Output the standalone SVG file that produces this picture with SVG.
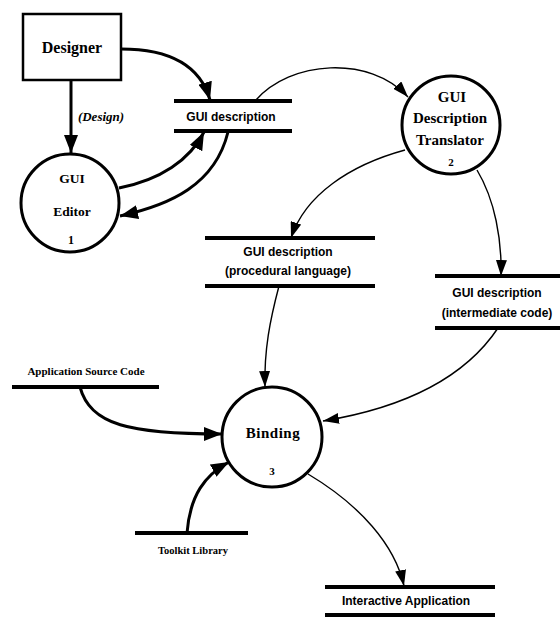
<svg xmlns="http://www.w3.org/2000/svg" width="560" height="617" viewBox="0 0 560 617">
<defs>
<style>
.bg{fill:#fff}
.box{fill:#fff;stroke:#000;stroke-width:2.5}
.proc{fill:#fff;stroke:#000;stroke-width:3}
.store{stroke:#000;stroke-width:4;fill:none}
.thick{fill:none;stroke:#000;stroke-width:3;marker-end:url(#ahB)}
.thin{fill:none;stroke:#000;stroke-width:1.4;marker-end:url(#ahS)}
.serif{font-family:"Liberation Serif","Times New Roman",serif;font-weight:bold;fill:#000;text-anchor:middle}
.sans{font-family:"Liberation Sans",Arial,sans-serif;font-weight:bold;fill:#000;text-anchor:middle;font-size:12px}
</style>
<marker id="ahB" markerUnits="userSpaceOnUse" markerWidth="18" markerHeight="14" refX="18" refY="7" orient="auto">
<path d="M0,0 L18,7 L0,14 z" fill="#000"/>
</marker>
<marker id="ahS" markerUnits="userSpaceOnUse" markerWidth="16" markerHeight="11" refX="16" refY="5.5" orient="auto">
<path d="M0,0 L16,5.5 L0,11 z" fill="#000"/>
</marker>
</defs>
<rect class="bg" x="0" y="0" width="560" height="617"/>

<g id="connectors">
<path class="thick" d="M121,49 C170,49 200,65 210,100"/>
<path class="thick" d="M71,80 L71,153"/>
<path class="thick" d="M119,188 C160,180 190,160 204,132"/>
<path class="thick" d="M228,132 C215,185 170,205 120,216"/>
<path class="thin" d="M255,101 C290,60 370,55 408,97"/>
<path class="thin" d="M405,150 C350,165 305,195 291,238"/>
<path class="thin" d="M477,170 C495,200 502,240 501,276"/>
<path class="thin" d="M279,286 C270,320 264,350 265,387"/>
<path class="thin" d="M498,328 C460,385 390,410 323,421"/>
<path class="thick" d="M80,387 C90,425 130,434 222,434"/>
<path class="thick" d="M187,533 C190,495 205,475 229,462"/>
<path class="thin" d="M308,474 C360,505 395,545 404,586"/>
<text class="serif" x="101" y="121" font-size="13" font-style="italic">(Design)</text>
</g>

<g id="designer">
<rect class="box" x="23" y="14" width="98" height="66"/>
<text class="serif" x="72" y="53" font-size="16">Designer</text>
</g>

<g id="store-gui-description">
<line class="store" x1="174" y1="101" x2="292" y2="101"/>
<line class="store" x1="174" y1="131" x2="292" y2="131"/>
<text class="sans" x="231" y="121">GUI description</text>
</g>

<g id="gui-editor">
<circle class="proc" cx="70" cy="203" r="49"/>
<text class="serif" x="72" y="183" font-size="13.5">GUI</text>
<text class="serif" x="72" y="216" font-size="13.5">Editor</text>
<text class="serif" x="71" y="244" font-size="12">1</text>
</g>

<g id="translator">
<circle class="proc" cx="451" cy="125" r="49"/>
<text class="serif" x="452" y="102" font-size="15">GUI</text>
<text class="serif" x="450" y="123" font-size="15">Description</text>
<text class="serif" x="450" y="145" font-size="15">Translator</text>
<text class="serif" x="451" y="166" font-size="11">2</text>
</g>

<g id="store-procedural">
<line class="store" x1="205" y1="238" x2="375" y2="238"/>
<line class="store" x1="205" y1="286" x2="375" y2="286"/>
<text class="sans" x="288" y="256">GUI description</text>
<text class="sans" x="288" y="275">(procedural language)</text>
</g>

<g id="store-intermediate">
<line class="store" x1="435" y1="276" x2="560" y2="276"/>
<line class="store" x1="435" y1="328" x2="560" y2="328"/>
<text class="sans" x="497" y="297">GUI description</text>
<text class="sans" x="497" y="317">(intermediate code)</text>
</g>

<g id="store-application-source">
<line class="store" x1="12" y1="387" x2="159" y2="387"/>
<text class="serif" x="86" y="375" font-size="11">Application Source Code</text>
</g>

<g id="binding">
<circle class="proc" cx="272" cy="437" r="50"/>
<text class="serif" x="273" y="438" font-size="15" letter-spacing="0.5">Binding</text>
<text class="serif" x="272" y="475" font-size="11">3</text>
</g>

<g id="store-toolkit">
<line class="store" x1="135" y1="533" x2="248" y2="533"/>
<text class="serif" x="193" y="554" font-size="10.5">Toolkit Library</text>
</g>

<g id="store-interactive">
<line class="store" x1="325" y1="587" x2="495" y2="587"/>
<line class="store" x1="325" y1="615" x2="495" y2="615"/>
<text class="sans" x="406" y="605">Interactive Application</text>
</g>
</svg>
